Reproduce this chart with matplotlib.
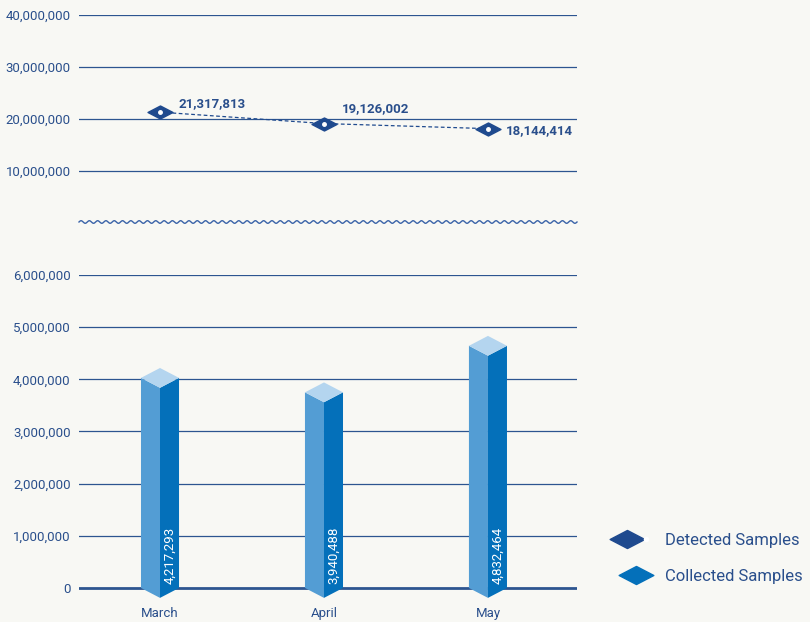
import numpy as np
import matplotlib
matplotlib.use("Agg")
import matplotlib.pyplot as plt
from matplotlib.patches import Polygon
from matplotlib.lines import Line2D
from matplotlib.path import Path
from matplotlib.legend_handler import HandlerTuple

# data
months = ["March", "April", "May"]
collected = [4217293, 3940488, 4832464]
detected = [21317813, 19126002, 18144414]
lower_ticks = [0, 1000000, 2000000, 3000000, 4000000, 5000000, 6000000]
upper_ticks = [10000000, 20000000, 30000000, 40000000]

bg = "#f8f8f4"
navy = "#1f4a8e"
text_c = "#2a4f8c"
grid_c = "#2d5590"
c_left = "#539dd4"
c_right = "#0470ba"
c_top = "#b4d5ef"

plt.rcParams['font.family'] = ['Roboto', 'DejaVu Sans']

W, H = 810, 622
fig = plt.figure(figsize=(W / 100, H / 100), dpi=100, facecolor=bg)

x0, x1 = 79 / W, 577 / W
# lower axes: -0.2M (598px) .. 6M (275px)
ax = fig.add_axes([x0, (H - 598.4) / H, x1 - x0, (598.4 - 275) / H])
# upper axes: 0 (223px) .. 40M (15px)
ax2 = fig.add_axes([x0, (H - 223) / H, x1 - x0, (223 - 15) / H])

xs = np.arange(len(months))
xlim = (-0.494, 2.543)
for a in (ax, ax2):
    a.set_facecolor("none")
    a.set_xlim(*xlim)
    for s in a.spines.values():
        s.set_visible(False)
    a.tick_params(length=0, colors=text_c, labelsize=9.5, pad=6)

ax.set_ylim(-200000, 6000000)
ax2.set_ylim(0, 40000000)

fmt = lambda v: f"{v:,.0f}"
ax.set_yticks(lower_ticks, [fmt(v) for v in lower_ticks])
ax2.set_yticks(upper_ticks, [fmt(v) for v in upper_ticks])
for v in lower_ticks:
    ax.axhline(v, color=grid_c, lw=2 if v == 0 else 0.9, zorder=1)
for v in upper_ticks:
    ax2.axhline(v, color=grid_c, lw=0.9, zorder=1)
ax2.set_xticks([])
ax.set_xticks(xs, months)
ax.tick_params(axis="x", labelsize=9.5, pad=6)

# prism bars (top vertex at the value)
w = 0.116
d = 190000
for x, v in zip(xs, collected):
    left = [(x - w, 0), (x - w, v - d), (x, v - 2 * d), (x, -d)]
    right = [(x, -d), (x, v - 2 * d), (x + w, v - d), (x + w, 0)]
    top = [(x - w, v - d), (x, v), (x + w, v - d), (x, v - 2 * d)]
    for pts, c in ((left, c_left), (right, c_right), (top, c_top)):
        ax.add_patch(Polygon(pts, closed=True, fc=c, ec="none", zorder=3, clip_on=False))
    ax.text(x + w / 2, 80000, fmt(v), rotation=90, color="white", ha="center",
            va="bottom", fontsize=9.5, zorder=4)

# line of detected samples
diamond = Path([(-1, 0), (0, 0.52), (1, 0), (0, -0.52), (-1, 0)],
               [Path.MOVETO, Path.LINETO, Path.LINETO, Path.LINETO, Path.CLOSEPOLY])
ax2.plot(xs, detected, color=navy, lw=0.9, ls=(0, (3, 2)), zorder=3)
ax2.plot(xs, detected, ls="none", marker=diamond, ms=18, color=navy, zorder=4)
ax2.plot(xs, detected, ls="none", marker="o", ms=2.5, color="white", zorder=5)
offs = [(18, 9), (18, 15), (18, -2)]
for x, v, (dx, dy) in zip(xs, detected, offs):
    ax2.annotate(fmt(v), (x, v), xytext=(dx, dy), textcoords="offset pixels",
                 ha="left", va="center", color=text_c, fontsize=9.5, fontweight="bold")

# wavy break line
wx = np.linspace(79, 577, 1500)
wy = 400 + 1.3 * np.sin(2 * np.pi * (wx - 79) / 8.3)
fig.add_artist(Line2D(wx / W, wy / H, color="#3a63a8", lw=1.0))

# legend
h_det = (Line2D([], [], ls="none", marker=diamond, ms=25, color=navy),
         Line2D([], [], ls="none", marker="o", ms=3, color="white"))
h_col = Line2D([], [], ls="none", marker=diamond, ms=25, color=c_right)
fig.legend([h_det, h_col], ["Detected Samples", "Collected Samples"],
           handler_map={tuple: HandlerTuple(ndivide=None, pad=0)},
           loc="upper left", bbox_to_anchor=(603 / W, (H - 518) / H),
           frameon=False, fontsize=12, labelcolor=text_c, labelspacing=1.25,
           handlelength=2.2, handletextpad=0.6)

fig.savefig("out.png", dpi=100, facecolor=bg)
